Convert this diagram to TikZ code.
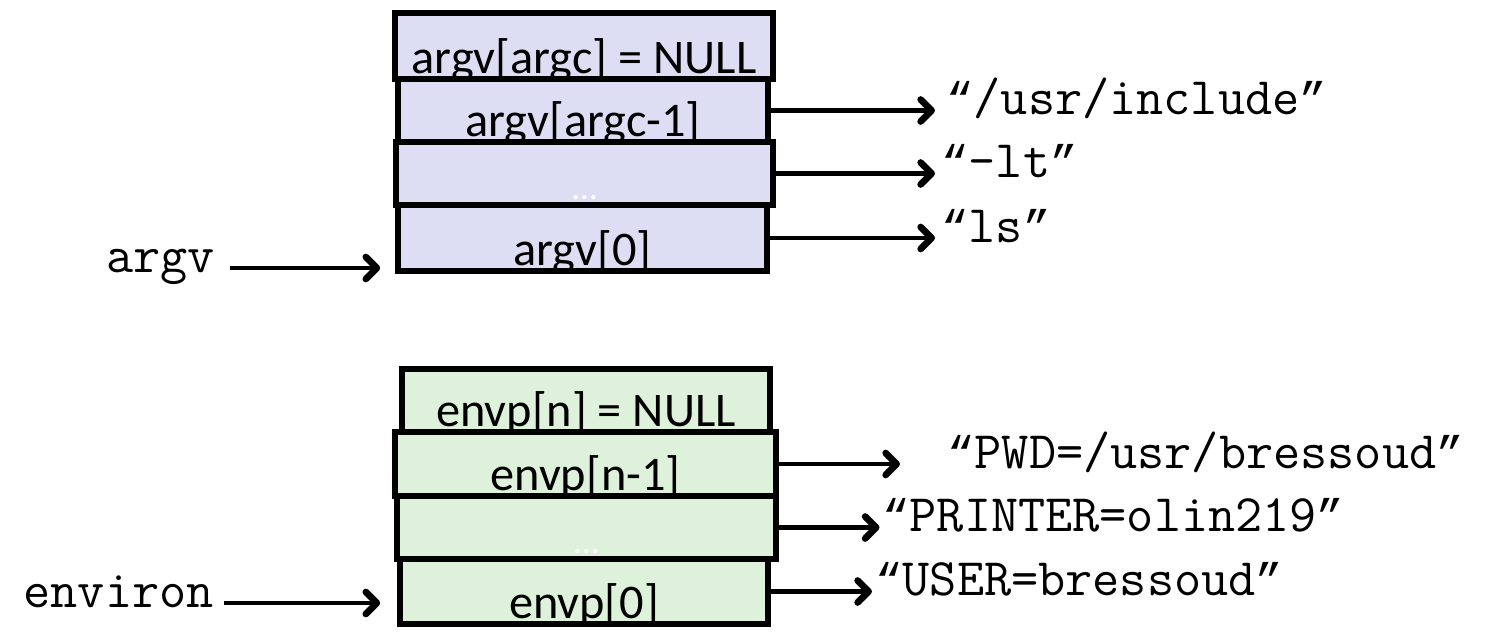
\documentclass[tikz,border=0pt]{standalone}
\usepackage{fontspec}
\setmainfont{Carlito}
\newfontfamily\quotefont{Liberation Mono}
\usetikzlibrary{arrows.meta}
\definecolor{argvfill}{RGB}{221,221,243}
\definecolor{envfill}{RGB}{222,241,218}
\newcommand{\cellfont}{\fontsize{27.5}{32}\selectfont}
\newcommand{\strfont}{\ttfamily\fontsize{30}{34}\selectfont}
\newcommand{\oq}{{\quotefont\fontsize{26}{30}\selectfont “}}
\newcommand{\cq}{{\quotefont\fontsize{26}{30}\selectfont ”}}
\tikzset{
    cell/.style = {draw, line width = 3.2pt, inner sep = 0pt, minimum height = 1.26cm},
    argvcell/.style = {cell, fill = argvfill},
    envcell/.style = {cell, fill = envfill},
    celltext/.style = {path picture = {
        \node[anchor = base, inner sep = 0pt, font = \cellfont] at ([yshift = 0.11cm]path picture bounding box.south) {#1};}},
    dotstext/.style = {path picture = {
        \node[anchor = base, inner sep = 0pt, white, font = \fontsize{20}{24}\selectfont] at ([yshift = 0.12cm]path picture bounding box.south) {\dots};}},
    ptr/.style = {line width = 2.8pt, -{Straight Barb[length = 0.22cm, width = 0.44cm, round, line width = 1pt 1]}},
    strlbl/.style = {font = \strfont, inner sep = 0pt, anchor = mid west}
}
\begin{document}
\begin{tikzpicture}
    \useasboundingbox (0, 0) rectangle (29.96, 12.66);
    % argv array
    \node[argvcell, minimum width = 7.56cm, minimum height = 1.32cm, celltext = {argv[argc] = NULL}] (a3) at (11.68, 11.74) {};
    \node[argvcell, minimum width = 7.40cm, celltext = {argv[argc-1]}] (a2) at (11.66, 10.45) {};
    \node[argvcell, minimum width = 7.54cm, dotstext] (a1) at (11.69, 9.19) {};
    \node[argvcell, minimum width = 7.38cm, minimum height = 1.32cm, celltext = {argv[0]}] (a0) at (11.65, 7.90) {};
    % envp array
    \node[envcell, minimum width = 7.36cm, celltext = {envp[n] = NULL}] (e3) at (11.72, 4.65) {};
    \node[envcell, minimum width = 7.62cm, minimum height = 1.28cm, celltext = {envp[n-1]}] (e2) at (11.71, 3.38) {};
    \node[envcell, minimum width = 7.58cm, dotstext] (e1) at (11.73, 2.11) {};
    \node[envcell, minimum width = 7.36cm, minimum height = 1.30cm, celltext = {envp[0]}] (e0) at (11.68, 0.83) {};

    % strings
    \node[strlbl] (s2) at (18.92, 10.45) {\oq/usr/include\cq};
    \node[strlbl] (s1) at (18.82, 9.19) {\oq-lt\cq};
    \node[strlbl] (s0) at (18.82, 7.90) {\oq ls\cq};
    \node[strlbl] (v2) at (18.94, 3.38) {\oq PWD=/usr/bressoud\cq};
    \node[strlbl] (v1) at (17.64, 2.11) {\oq PRINTER=olin219\cq};
    \node[strlbl] (v0) at (17.50, 0.83) {\oq USER=bressoud\cq};
    \draw[ptr, shorten >= 0.22cm] (a2.east) -- (a2.east -| s2.west);
    \draw[ptr, shorten >= 0.12cm] (a1.east) -- (a1.east -| s1.west);
    \draw[ptr, shorten >= 0.12cm] (a0.east) -- (a0.east -| s0.west);
    \draw[ptr, shorten >= 0.94cm] (e2.east) -- (e2.east -| v2.west);
    \draw[ptr, shorten >= 0.05cm] (e1.east) -- (e1.east -| v1.west);
    \draw[ptr, shorten >= 0.06cm] (e0.east) -- (e0.east -| v0.west);

    % pointers into the arrays
    \node[strlbl, anchor = mid east] (argvptr) at (4.30, 7.30) {argv};
    \node[strlbl, anchor = mid east] (envptr) at (4.28, 0.60) {environ};
    \draw[ptr, shorten <= 0.3cm, shorten >= 0.3cm] (argvptr.mid east) -- (argvptr.mid east -| a0.west);
    \draw[ptr, shorten <= 0.2cm, shorten >= 0.34cm] (envptr.mid east) -- (envptr.mid east -| e0.west);
\end{tikzpicture}
\end{document}
